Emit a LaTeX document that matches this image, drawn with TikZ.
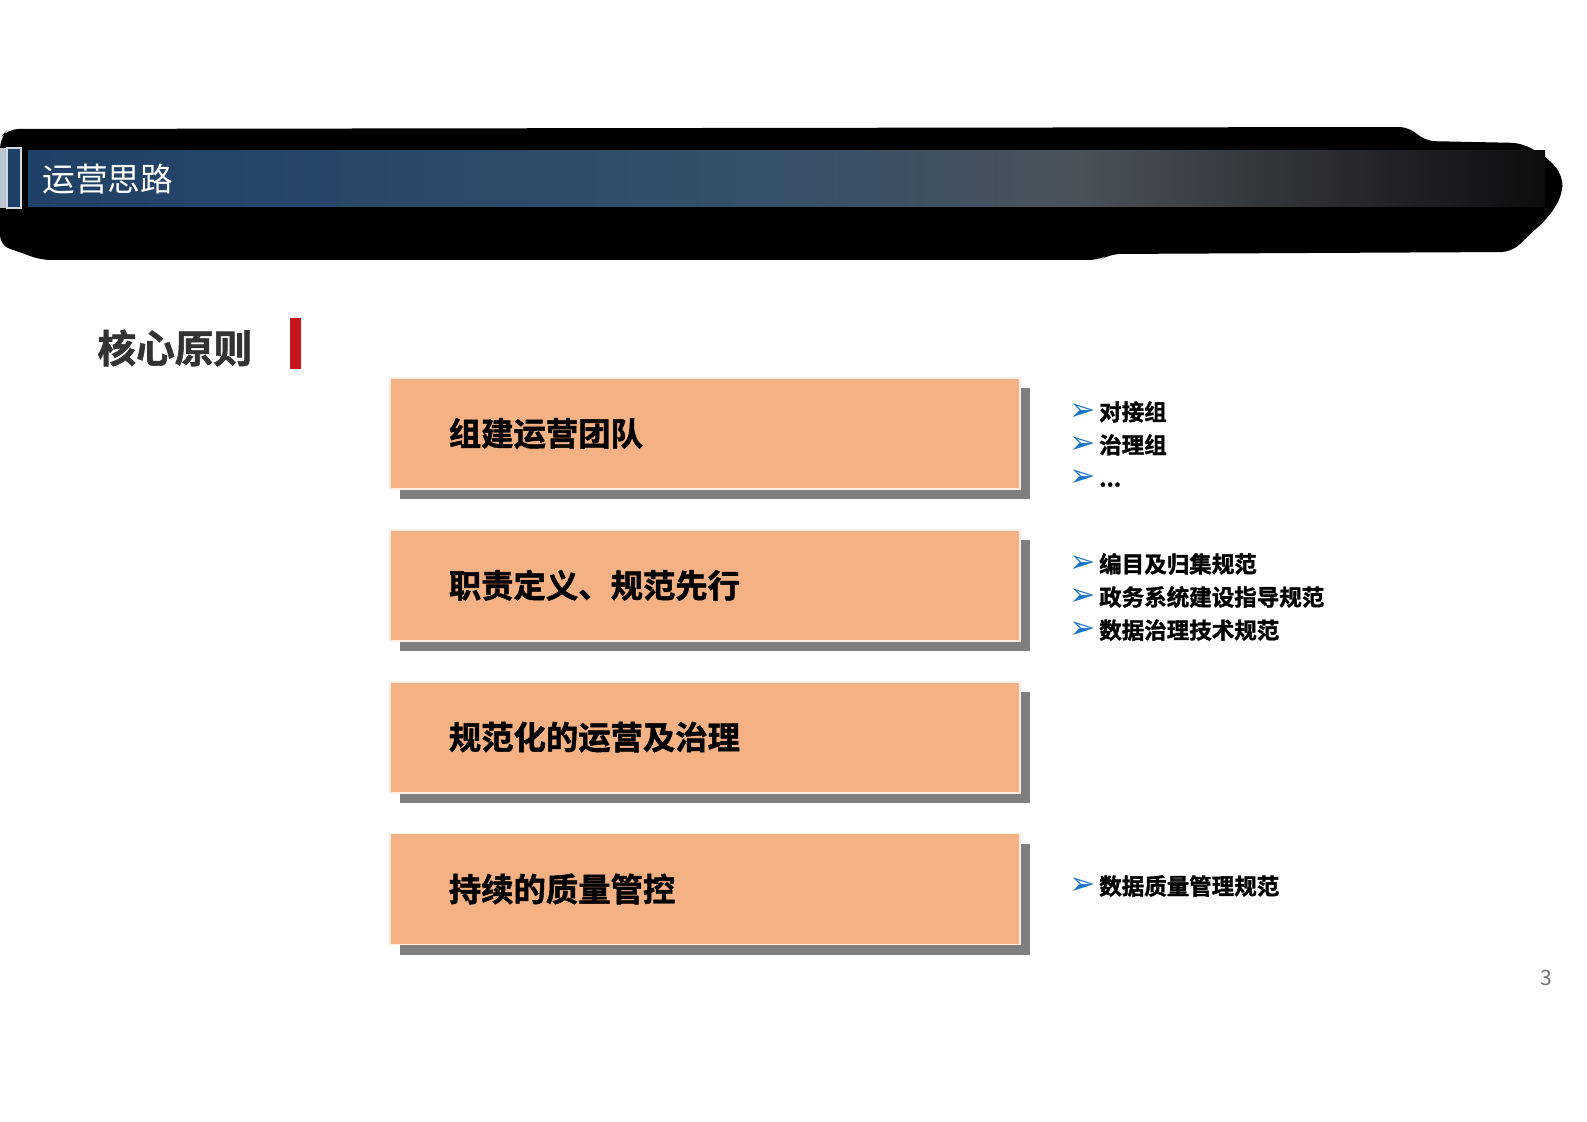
\documentclass[tikz,border=0pt]{standalone}
\usepackage{fontspec}
\setmainfont{Noto Sans CJK SC}[BoldFont={Noto Sans CJK SC Bold}, BoldFeatures={FakeBold=1.5}]
\newfontfamily\symfont{DejaVu Sans}
\usetikzlibrary{positioning, shadows}

\definecolor{barblue}{HTML}{1F4167}
\definecolor{barmid}{HTML}{34506A}
\definecolor{bargrey}{HTML}{4A5259}
\definecolor{boxorange}{HTML}{F4B183}
\definecolor{shadowgrey}{HTML}{7F7F7F}
\definecolor{markred}{HTML}{C8161D}
\definecolor{titlegrey}{HTML}{333333}
\definecolor{arrowblue}{HTML}{1A75C8}

\newcommand{\arrowbul}{{\color{arrowblue}\symfont\fontsize{9}{9.4}\selectfont ➢}\hspace{0.03cm}}

\tikzset{
    principle/.style={fill=boxorange, draw=white!80!boxorange, line width=0.5pt,
        minimum width=6.3cm, minimum height=1.11cm, text width=5.12cm, inner xsep=0.59cm,
        align=left, font=\bfseries\fontsize{9.2}{11}\selectfont,
        drop shadow={shadow xshift=0.1cm, shadow yshift=-0.1cm, fill=shadowgrey, opacity=1}},
    bullets/.style={anchor=west, inner sep=0pt, align=left,
        font=\bfseries\fontsize{6.4}{9.4}\selectfont},
}

\begin{document}
\begin{tikzpicture}[x=0.01cm, y=-0.01cm]
    \useasboundingbox (0,0) rectangle (1587,1122);

    % header band
    \fill[black, rounded corners=3] (0,138) -- (8,129) -- (1410,127) -- (1424,141) -- (1522,143)
        -- (1548,158) -- (1563,176) -- (1562,196) -- (1548,218) -- (1528,236) -- (1512,252)
        -- (1110,254) -- (1100,260) -- (40,260) -- (20,252) -- (0,246) -- cycle;
    \shade[left color=barblue, right color=barmid] (28,151) rectangle (750,207);
    \shade[left color=barmid, right color=bargrey] (750,151) rectangle (1080,207);
    \shade[left color=bargrey, right color=black!95] (1080,151) rectangle (1545,207);
    \fill[white!70!barblue] (0,148) rectangle (6,208);
    \draw[fill=barblue, draw=white!80!barblue, line width=0.8pt] (7,148) rectangle (21,208);
    \node[anchor=west, text=white, font=\fontsize{9.3}{11}\selectfont] (head) at (30,179) {运营思路};

    % title
    \node[anchor=west, text=titlegrey, font=\bfseries\fontsize{11}{13}\selectfont] (title) at (85,348) {核心原则};
    \node[fill=markred, minimum width=0.11cm, minimum height=0.51cm, inner sep=0pt] (mark) at (295.5,343.5) {};

    % principles
    \node[principle] (team) at (705,433.5) {组建运营团队};
    \node[principle, below=0.39cm of team] (duty) {职责定义、规范先行};
    \node[principle, below=0.39cm of duty] (govern) {规范化的运营及治理};
    \node[principle, below=0.39cm of govern] (quality) {持续的质量管控};

    % details
    \node[bullets] (teamlist) at (1069,444) {\arrowbul 对接组\\ \arrowbul 治理组\\ \arrowbul ...};
    \node[bullets] (dutylist) at (1069,597) {\arrowbul 编目及归集规范\\ \arrowbul 政务系统建设指导规范\\ \arrowbul 数据治理技术规范};
    \node[bullets] (qualitylist) at (1069,886) {\arrowbul 数据质量管理规范};

    \node[text=black!55, font=\fontsize{6}{7}\selectfont] (page) at (1546,978) {3};
\end{tikzpicture}
\end{document}
